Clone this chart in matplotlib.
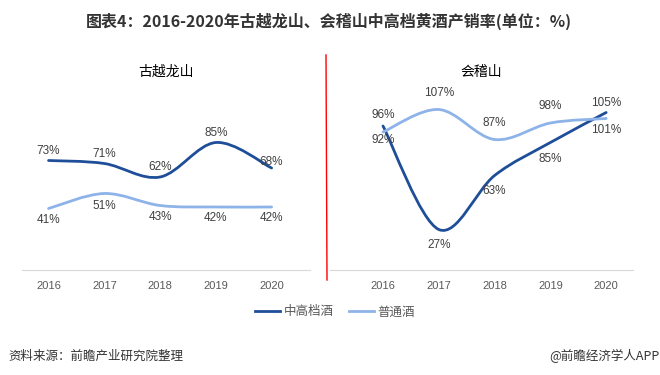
import matplotlib
matplotlib.use("Agg")
import matplotlib.pyplot as plt
from matplotlib.path import Path
from matplotlib.patches import PathPatch
from matplotlib.lines import Line2D

plt.rcParams["font.family"] = ["Liberation Sans", "Noto Sans CJK SC"]

years = ["2016", "2017", "2018", "2019", "2020"]
series_names = ["中高档酒", "普通酒"]

gyls_high = [73, 71, 62, 85, 68]
gyls_normal = [41, 51, 43, 42, 42]
kjs_high = [96, 27, 63, 85, 105]
kjs_normal = [92, 107, 87, 98, 101]

panel_titles = ["古越龙山", "会稽山"]

DARK = "#1F4E99"
LIGHT = "#8DB3E8"
LABEL_C = "#404040"
TICK_C = "#595959"


def smooth_path(xs, ys):
    # Excel-style smoothed line: cubic Bezier with 1/6 neighbour tangents
    n = len(xs)
    verts = [(xs[0], ys[0])]
    codes = [Path.MOVETO]
    for i in range(n - 1):
        x0, y0 = xs[max(i - 1, 0)], ys[max(i - 1, 0)]
        x1, y1 = xs[i], ys[i]
        x2, y2 = xs[i + 1], ys[i + 1]
        x3, y3 = xs[min(i + 2, n - 1)], ys[min(i + 2, n - 1)]
        c1 = (x1 + (x2 - x0) / 6, y1 + (y2 - y0) / 6)
        c2 = (x2 - (x3 - x1) / 6, y2 - (y3 - y1) / 6)
        verts += [c1, c2, (x2, y2)]
        codes += [Path.CURVE4] * 3
    return Path(verts, codes)


def draw_panel(ax, title, high, normal, high_dy, normal_dy, xlim):
    xs = list(range(len(years)))
    for vals, color, dys in ((high, DARK, high_dy), (normal, LIGHT, normal_dy)):
        ax.add_patch(PathPatch(smooth_path(xs, vals), facecolor="none",
                               edgecolor=color, lw=2, capstyle="round"))
        for x, v, dy in zip(xs, vals, dys):
            ax.annotate(f"{v}%", (x, v), xytext=(0, dy), textcoords="offset points",
                        ha="center", va="center", fontsize=8.5, color=LABEL_C)
    ax.set_xlim(*xlim)
    ax.set_ylim(0, 120)
    ax.set_xticks(xs)
    ax.set_xticklabels(years, fontsize=8, color=TICK_C)
    ax.set_yticks([])
    for side in ("top", "left", "right"):
        ax.spines[side].set_visible(False)
    ax.spines["bottom"].set_color("#D9D9D9")
    ax.tick_params(axis="x", length=0, pad=8)
    ax.set_title(title, fontsize=10, color="black", pad=10,
                 family=["Noto Sans CJK SC"])


fig = plt.figure(figsize=(6.6, 3.75), dpi=100)

ax1 = fig.add_axes([0.033, 0.28, 0.436, 0.48])
ax2 = fig.add_axes([0.5, 0.28, 0.459, 0.48])

draw_panel(ax1, panel_titles[0], gyls_high, gyls_normal,
           [7, 7, 7, 7, 4], [-8, -9, -8, -8, -8], (-0.48, 4.68))
draw_panel(ax2, panel_titles[1], kjs_high, kjs_normal,
           [8, -11, -11, -12, 7], [-6, 12, 12, 12, -8], (-0.95, 4.48))

# red divider
fig.add_artist(Line2D([326 / 660, 327 / 660], [1 - 55 / 375, 1 - 280 / 375],
                      transform=fig.transFigure, color="red", lw=1))

fig.text(0.498, 1 - 21 / 375, "图表4：2016-2020年古越龙山、会稽山中高档黄酒产销率(单位：%)",
         ha="center", va="center", fontsize=11.5, fontweight="bold", color="#333333",
         family=["Noto Sans CJK SC"])

handles = [Line2D([], [], color=DARK, lw=2), Line2D([], [], color=LIGHT, lw=2)]
fig.legend(handles, series_names, loc="center", bbox_to_anchor=(0.508, 1 - 312 / 375),
           ncol=2, frameon=False, handlelength=2.0, columnspacing=1.2,
           handletextpad=0.3, labelcolor=TICK_C, prop={"family": ["Noto Sans CJK SC"], "size": 9})

fig.text(8 / 660, 1 - 356 / 375, "资料来源：前瞻产业研究院整理", ha="left", va="center",
         fontsize=9, color="#333333", family=["Noto Sans CJK SC"])
fig.text(659 / 660, 1 - 356 / 375, "@前瞻经济学人APP", ha="right", va="center",
         fontsize=9, color="#333333", family=["Noto Sans CJK SC"])

fig.savefig("out.png", dpi=100)
